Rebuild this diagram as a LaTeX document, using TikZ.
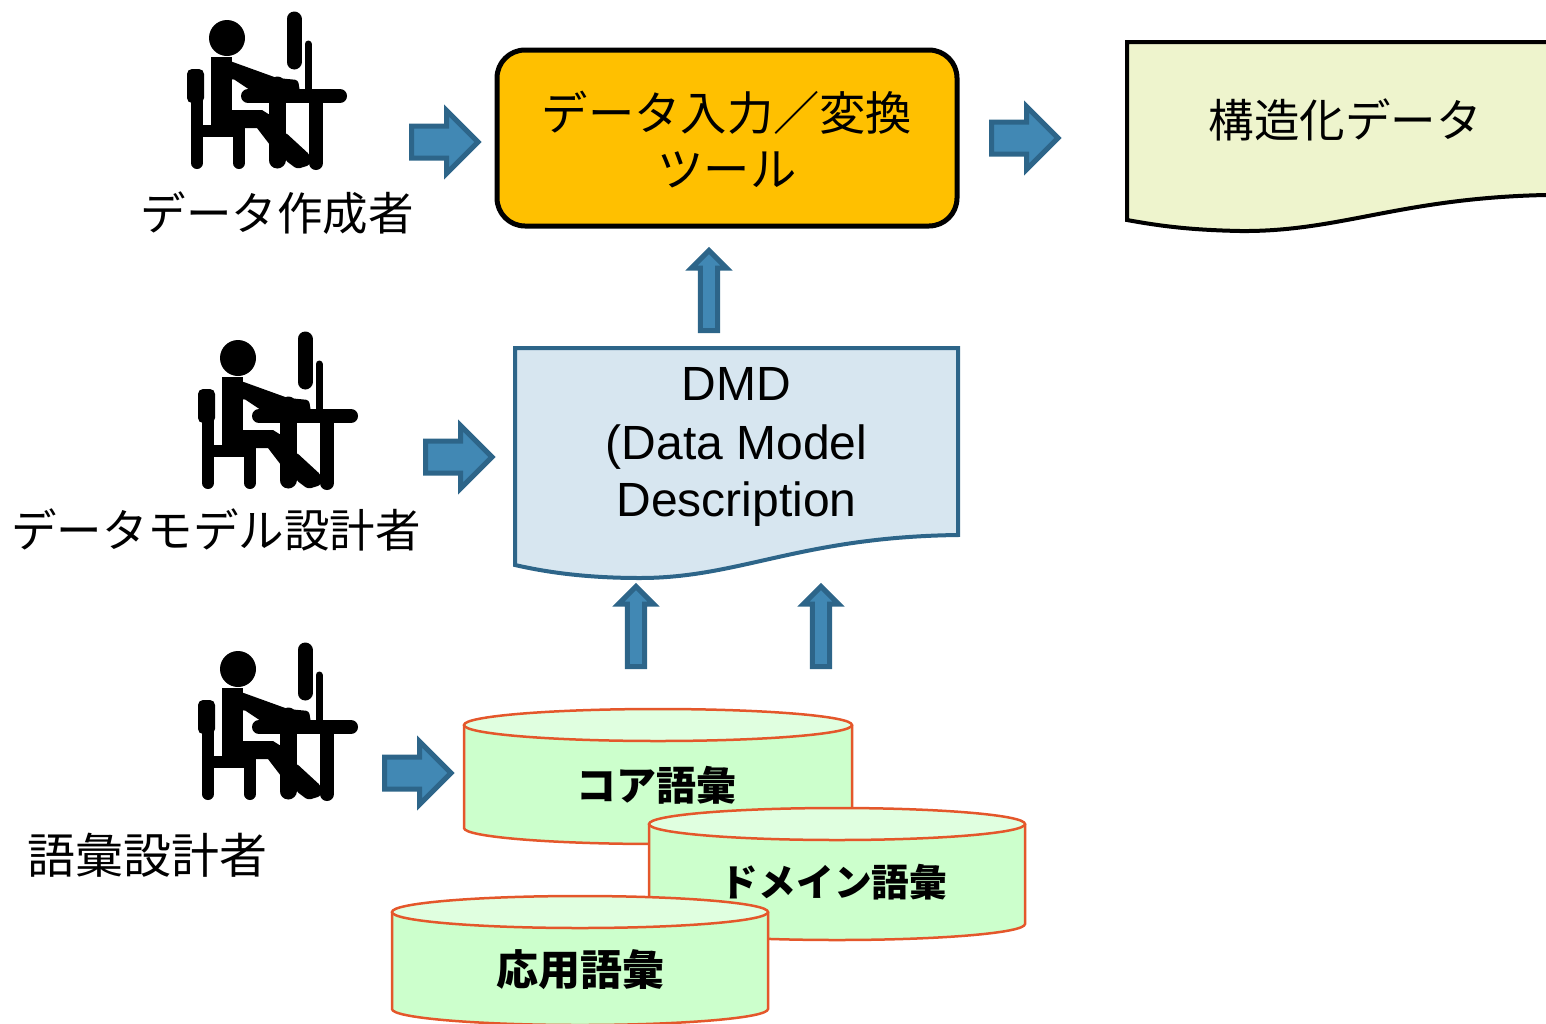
\documentclass[tikz,border=0pt]{standalone}
\usepackage{fontspec}
\setmainfont{Liberation Sans}
\newfontfamily\cjk{Noto Sans CJK JP}
\definecolor{arrowfill}{HTML}{4188B4}
\definecolor{arrowline}{HTML}{2D6589}
\definecolor{cylline}{HTML}{E4572B}
\definecolor{cylbody}{HTML}{CCFFCC}
\definecolor{cyltop}{HTML}{E0FFE0}
\definecolor{docblue}{HTML}{D7E6F0}
\definecolor{docgreen}{HTML}{EEF4CD}
\definecolor{toolorange}{HTML}{FFC000}
\newcommand{\fs}[1]{\fontsize{#1}{#1}\selectfont}
\tikzset{
  x=1pt,y=-1pt,
  blockarrow/.style={draw=arrowline,fill=arrowfill,line width=5pt,miter limit=10,line join=miter},
  label/.style={font=\cjk\fs{45.5},text=black,inner sep=0pt,align=center},
  voc/.style={font=\cjk\bfseries\fs{40},text=black,inner sep=0pt},
  cylpath/.style={draw=cylline,line width=2.5pt},
  arrowright/.pic={
    \path[blockarrow] (-33.5,-16) -- (1.5,-16) -- (1.5,-31.5) -- (33,0) -- (1.5,31.5) -- (1.5,16) -- (-33.5,16) -- cycle;
  },
  arrowup/.pic={
    \path[blockarrow] (-8.7,39.5) -- (-8.7,-23) -- (-17.5,-23) -- (0,-40.5) -- (17.5,-23) -- (8.7,-23) -- (8.7,39.5) -- cycle;
  },
  person/.pic={
    \fill (227,38) circle (18);
    % monitor and stand
    \draw[line width=15pt,line cap=round] (294,19) -- (294,62);
    \draw[line width=7pt,line cap=round] (308,44) -- (308,92);
    % desk and leg
    \draw[line width=14pt,line cap=round] (248,96) -- (340,96);
    \draw[line width=14pt,line cap=round] (316,98) -- (316,163);
    % chair
    \fill[rounded corners=5pt] (187,103) -- (187,69) -- (204,69) -- (204,103) -- cycle;
    \draw[line width=12pt,line cap=round] (197,100) -- (197,163);
    \draw[line width=12pt,line cap=round] (239,125) -- (239,163);
    \fill (197,125) rectangle (240,137);
    % torso, arm and legs
    \fill[rounded corners=3pt] (211,128) -- (211,57) -- (230,61) -- (277,78) -- (298,80) -- (300,92)
      -- (253,92) -- (232,78) -- cycle;
    \fill (211,128) -- (232,128) -- (232,57) -- (211,57) -- cycle;
    \fill (232,110) -- (262,110) -- (270,115) -- (270,145) -- (257,128) -- (232,128) -- cycle;
    \draw[line width=17pt,line cap=round] (277,85) -- (277,160);
    \fill[rounded corners=3pt] (285,132) -- (310,155) -- (310,165) -- (297,169) -- (285,160) -- cycle;
  }
}
\newcommand{\cylinder}[5]{% left, right, top-centre y, side bottom y, ry
  \fill[cylbody] (#1,#3) -- (#1,#4) arc[start angle=180,end angle=0,x radius={(#2-#1)/2},y radius=#5]
    -- (#2,#3) -- cycle;
  \draw[cylpath] (#1,#3) -- (#1,#4) arc[start angle=180,end angle=0,x radius={(#2-#1)/2},y radius=#5] -- (#2,#3);
  \draw[cylpath,fill=cyltop] ({(#1+#2)/2},#3) ellipse[x radius={(#2-#1)/2},y radius=#5];
}
\begin{document}
\begin{tikzpicture}
\useasboundingbox (0,0) rectangle (1546,1023);
% people
\pic at (0,0) {person};
\pic at (11,320) {person};
\pic at (11,631) {person};
\node[label] (authorlabel) at (277,213) {データ作成者};
\node[label] (modellabel) at (216,530) {データモデル設計者};
\node[label,font=\cjk\fs{48}] (vocablabel) at (147.5,855) {語彙設計者};
% tool
\node[draw=black,fill=toolorange,line width=5pt,rounded corners=28pt,minimum width=460pt,minimum height=176pt,
  inner sep=0pt] (tool) at (727,138) {};
\node[label,font=\cjk\fs{46.3}] (tooltext) at (727,139.5) {データ入力／変換\\[9.5pt]ツール};
% structured data document
\fill[docgreen] (1127,42) -- (1546,42) -- (1546,195) .. controls (1400,198) and (1340,232) .. (1240,231)
  .. controls (1190,230) and (1160,226) .. (1127,220) -- cycle;
\draw[black,line width=4pt] (1546,42) -- (1127,42) -- (1127,220) .. controls (1160,226) and (1190,230) .. (1240,231)
  .. controls (1340,232) and (1400,198) .. (1546,195);
\node[label] (datatext) at (1345,120) {構造化データ};
% DMD document
\draw[draw=arrowline,fill=docblue,line width=4pt] (515,348) -- (958,348) -- (958,535)
  .. controls (800,537) and (740,578) .. (640,578) .. controls (590,578) and (550,573) .. (515,565) -- cycle;
\node[font=\fs{48},inner sep=0pt,align=center] (dmdtext) at (736.5,447) {DMD\\[10.5pt](Data Model\\[9.5pt]Description};
% vocabularies
\cylinder{464}{852}{725}{828}{16}
\node[voc] (core) at (656,785) {コア語彙};
\cylinder{649}{1025}{824}{924}{16}
\node[voc,font=\cjk\bfseries\fs{37.7}] (domain) at (834,882) {ドメイン語彙};
\cylinder{392}{768}{912}{1009}{16}
\node[voc,font=\cjk\bfseries\fs{42}] (applied) at (580,970) {応用語彙};
% block arrows
\pic at (445,142) {arrowright};
\pic at (1025,138) {arrowright};
\pic at (459,457) {arrowright};
\pic at (418,773) {arrowright};
\pic at (709,291) {arrowup};
\pic at (636,627) {arrowup};
\pic at (821,627) {arrowup};
\end{tikzpicture}
\end{document}
